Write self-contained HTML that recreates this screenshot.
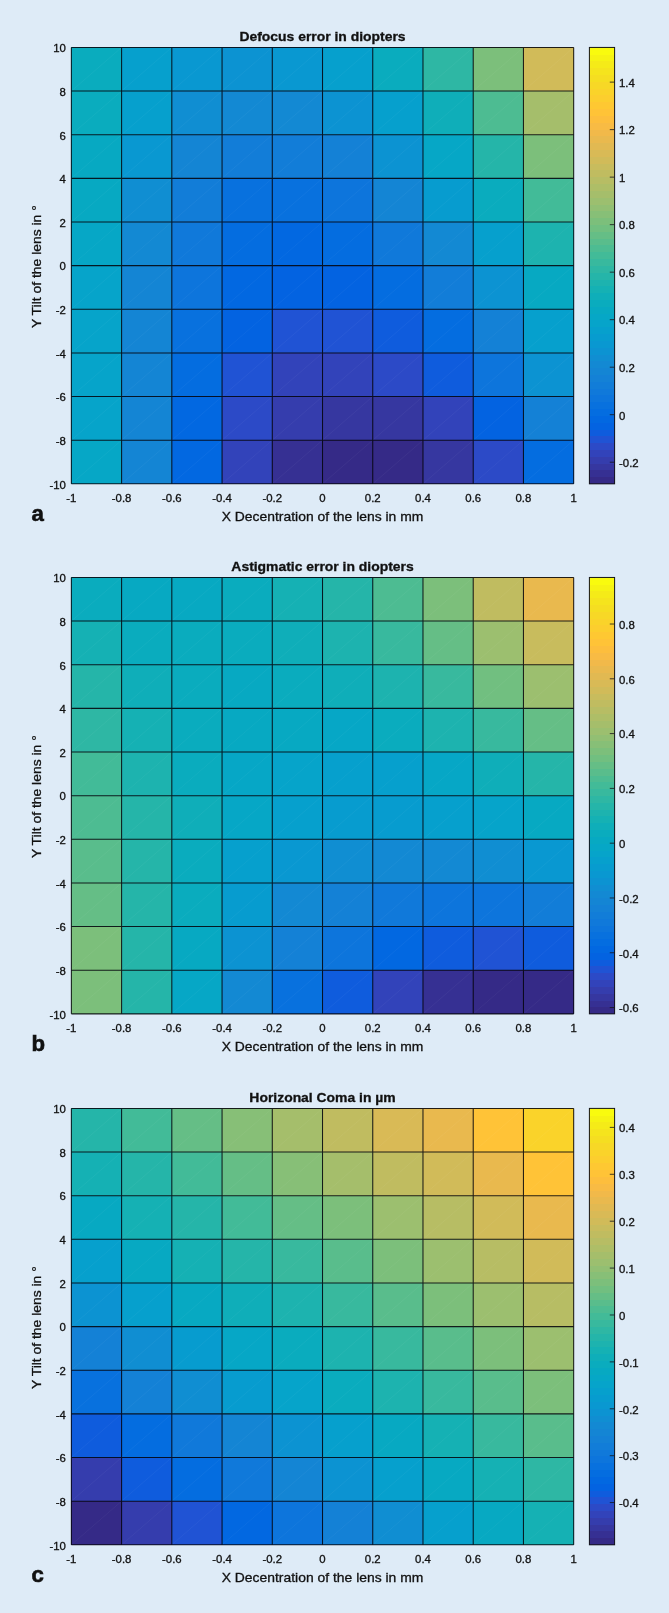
<!DOCTYPE html>
<html lang="en"><head><meta charset="utf-8"><title>Figure</title>
<style>html,body{margin:0;padding:0;background:#deebf7;}body{width:669px;height:1613px;overflow:hidden;}svg{display:block;will-change:transform;}</style>
</head><body>
<svg width="669" height="1613" viewBox="0 0 669 1613" font-family="'Liberation Sans', Arial, Helvetica, sans-serif" fill="#111" stroke="#111" stroke-width="0">
<rect width="669" height="1613" fill="#deebf7"/>
<g>
<g shape-rendering="crispEdges">
<rect x="71.36" y="47.43" width="50.53" height="43.94" fill="#0aacbe"/>
<rect x="121.59" y="47.43" width="50.53" height="43.94" fill="#06a0cd"/>
<rect x="171.82" y="47.43" width="50.53" height="43.94" fill="#0998d1"/>
<rect x="222.06" y="47.43" width="50.53" height="43.94" fill="#0c93d2"/>
<rect x="272.29" y="47.43" width="50.53" height="43.94" fill="#0998d1"/>
<rect x="322.52" y="47.43" width="50.53" height="43.94" fill="#06a0cd"/>
<rect x="372.75" y="47.43" width="50.53" height="43.94" fill="#0aacbe"/>
<rect x="422.98" y="47.43" width="50.53" height="43.94" fill="#2eb7a4"/>
<rect x="473.22" y="47.43" width="50.53" height="43.94" fill="#7cbf7b"/>
<rect x="523.45" y="47.43" width="50.53" height="43.94" fill="#d1bb59"/>
<rect x="71.36" y="91.07" width="50.53" height="43.94" fill="#0aacbe"/>
<rect x="121.59" y="91.07" width="50.53" height="43.94" fill="#06a0cd"/>
<rect x="171.82" y="91.07" width="50.53" height="43.94" fill="#108ed2"/>
<rect x="222.06" y="91.07" width="50.53" height="43.94" fill="#1389d3"/>
<rect x="272.29" y="91.07" width="50.53" height="43.94" fill="#1389d3"/>
<rect x="322.52" y="91.07" width="50.53" height="43.94" fill="#0c93d2"/>
<rect x="372.75" y="91.07" width="50.53" height="43.94" fill="#06a0cd"/>
<rect x="422.98" y="91.07" width="50.53" height="43.94" fill="#0faeb9"/>
<rect x="473.22" y="91.07" width="50.53" height="43.94" fill="#4dbc92"/>
<rect x="523.45" y="91.07" width="50.53" height="43.94" fill="#a5be6b"/>
<rect x="71.36" y="134.71" width="50.53" height="43.94" fill="#07a9c2"/>
<rect x="121.59" y="134.71" width="50.53" height="43.94" fill="#0998d1"/>
<rect x="171.82" y="134.71" width="50.53" height="43.94" fill="#1485d4"/>
<rect x="222.06" y="134.71" width="50.53" height="43.94" fill="#127dd8"/>
<rect x="272.29" y="134.71" width="50.53" height="43.94" fill="#127dd8"/>
<rect x="322.52" y="134.71" width="50.53" height="43.94" fill="#1481d6"/>
<rect x="372.75" y="134.71" width="50.53" height="43.94" fill="#0c93d2"/>
<rect x="422.98" y="134.71" width="50.53" height="43.94" fill="#06a7c6"/>
<rect x="473.22" y="134.71" width="50.53" height="43.94" fill="#25b5a9"/>
<rect x="523.45" y="134.71" width="50.53" height="43.94" fill="#7cbf7b"/>
<rect x="71.36" y="178.35" width="50.53" height="43.94" fill="#07a9c2"/>
<rect x="121.59" y="178.35" width="50.53" height="43.94" fill="#108ed2"/>
<rect x="171.82" y="178.35" width="50.53" height="43.94" fill="#127dd8"/>
<rect x="222.06" y="178.35" width="50.53" height="43.94" fill="#0871de"/>
<rect x="272.29" y="178.35" width="50.53" height="43.94" fill="#0871de"/>
<rect x="322.52" y="178.35" width="50.53" height="43.94" fill="#0d75dc"/>
<rect x="372.75" y="178.35" width="50.53" height="43.94" fill="#1485d4"/>
<rect x="422.98" y="178.35" width="50.53" height="43.94" fill="#079ccf"/>
<rect x="473.22" y="178.35" width="50.53" height="43.94" fill="#0aacbe"/>
<rect x="523.45" y="178.35" width="50.53" height="43.94" fill="#42bb98"/>
<rect x="71.36" y="221.99" width="50.53" height="43.94" fill="#06a7c6"/>
<rect x="121.59" y="221.99" width="50.53" height="43.94" fill="#1389d3"/>
<rect x="171.82" y="221.99" width="50.53" height="43.94" fill="#1079da"/>
<rect x="222.06" y="221.99" width="50.53" height="43.94" fill="#046de0"/>
<rect x="272.29" y="221.99" width="50.53" height="43.94" fill="#0268e1"/>
<rect x="322.52" y="221.99" width="50.53" height="43.94" fill="#046de0"/>
<rect x="372.75" y="221.99" width="50.53" height="43.94" fill="#1079da"/>
<rect x="422.98" y="221.99" width="50.53" height="43.94" fill="#1389d3"/>
<rect x="473.22" y="221.99" width="50.53" height="43.94" fill="#06a0cd"/>
<rect x="523.45" y="221.99" width="50.53" height="43.94" fill="#1db3af"/>
<rect x="71.36" y="265.63" width="50.53" height="43.94" fill="#06a4ca"/>
<rect x="121.59" y="265.63" width="50.53" height="43.94" fill="#1485d4"/>
<rect x="171.82" y="265.63" width="50.53" height="43.94" fill="#0d75dc"/>
<rect x="222.06" y="265.63" width="50.53" height="43.94" fill="#0268e1"/>
<rect x="272.29" y="265.63" width="50.53" height="43.94" fill="#0363e1"/>
<rect x="322.52" y="265.63" width="50.53" height="43.94" fill="#0363e1"/>
<rect x="372.75" y="265.63" width="50.53" height="43.94" fill="#046de0"/>
<rect x="422.98" y="265.63" width="50.53" height="43.94" fill="#127dd8"/>
<rect x="473.22" y="265.63" width="50.53" height="43.94" fill="#0c93d2"/>
<rect x="523.45" y="265.63" width="50.53" height="43.94" fill="#07a9c2"/>
<rect x="71.36" y="309.27" width="50.53" height="43.94" fill="#06a4ca"/>
<rect x="121.59" y="309.27" width="50.53" height="43.94" fill="#1485d4"/>
<rect x="171.82" y="309.27" width="50.53" height="43.94" fill="#0871de"/>
<rect x="222.06" y="309.27" width="50.53" height="43.94" fill="#0363e1"/>
<rect x="272.29" y="309.27" width="50.53" height="43.94" fill="#2053d4"/>
<rect x="322.52" y="309.27" width="50.53" height="43.94" fill="#2053d4"/>
<rect x="372.75" y="309.27" width="50.53" height="43.94" fill="#0f5cdd"/>
<rect x="422.98" y="309.27" width="50.53" height="43.94" fill="#046de0"/>
<rect x="473.22" y="309.27" width="50.53" height="43.94" fill="#1481d6"/>
<rect x="523.45" y="309.27" width="50.53" height="43.94" fill="#06a0cd"/>
<rect x="71.36" y="352.91" width="50.53" height="43.94" fill="#06a4ca"/>
<rect x="121.59" y="352.91" width="50.53" height="43.94" fill="#1485d4"/>
<rect x="171.82" y="352.91" width="50.53" height="43.94" fill="#046de0"/>
<rect x="222.06" y="352.91" width="50.53" height="43.94" fill="#2053d4"/>
<rect x="272.29" y="352.91" width="50.53" height="43.94" fill="#3243ba"/>
<rect x="322.52" y="352.91" width="50.53" height="43.94" fill="#3243ba"/>
<rect x="372.75" y="352.91" width="50.53" height="43.94" fill="#2c4ac7"/>
<rect x="422.98" y="352.91" width="50.53" height="43.94" fill="#0f5cdd"/>
<rect x="473.22" y="352.91" width="50.53" height="43.94" fill="#0d75dc"/>
<rect x="523.45" y="352.91" width="50.53" height="43.94" fill="#0c93d2"/>
<rect x="71.36" y="396.55" width="50.53" height="43.94" fill="#06a4ca"/>
<rect x="121.59" y="396.55" width="50.53" height="43.94" fill="#1485d4"/>
<rect x="171.82" y="396.55" width="50.53" height="43.94" fill="#0268e1"/>
<rect x="222.06" y="396.55" width="50.53" height="43.94" fill="#2c4ac7"/>
<rect x="272.29" y="396.55" width="50.53" height="43.94" fill="#353dad"/>
<rect x="322.52" y="396.55" width="50.53" height="43.94" fill="#3637a0"/>
<rect x="372.75" y="396.55" width="50.53" height="43.94" fill="#3637a0"/>
<rect x="422.98" y="396.55" width="50.53" height="43.94" fill="#3243ba"/>
<rect x="473.22" y="396.55" width="50.53" height="43.94" fill="#0363e1"/>
<rect x="523.45" y="396.55" width="50.53" height="43.94" fill="#1481d6"/>
<rect x="71.36" y="440.19" width="50.53" height="43.94" fill="#06a7c6"/>
<rect x="121.59" y="440.19" width="50.53" height="43.94" fill="#1485d4"/>
<rect x="171.82" y="440.19" width="50.53" height="43.94" fill="#0268e1"/>
<rect x="222.06" y="440.19" width="50.53" height="43.94" fill="#3243ba"/>
<rect x="272.29" y="440.19" width="50.53" height="43.94" fill="#363093"/>
<rect x="322.52" y="440.19" width="50.53" height="43.94" fill="#352a87"/>
<rect x="372.75" y="440.19" width="50.53" height="43.94" fill="#352a87"/>
<rect x="422.98" y="440.19" width="50.53" height="43.94" fill="#3637a0"/>
<rect x="473.22" y="440.19" width="50.53" height="43.94" fill="#2c4ac7"/>
<rect x="523.45" y="440.19" width="50.53" height="43.94" fill="#046de0"/>
</g>
<path d="M71.36 91.07L121.59 47.43M121.59 91.07L171.82 47.43M171.82 91.07L222.06 47.43M222.06 91.07L272.29 47.43M272.29 91.07L322.52 47.43M322.52 91.07L372.75 47.43M372.75 91.07L422.98 47.43M422.98 91.07L473.22 47.43M473.22 91.07L523.45 47.43M523.45 91.07L573.68 47.43M71.36 134.71L121.59 91.07M121.59 134.71L171.82 91.07M171.82 134.71L222.06 91.07M222.06 134.71L272.29 91.07M272.29 134.71L322.52 91.07M322.52 134.71L372.75 91.07M372.75 134.71L422.98 91.07M422.98 134.71L473.22 91.07M473.22 134.71L523.45 91.07M523.45 134.71L573.68 91.07M71.36 178.35L121.59 134.71M121.59 178.35L171.82 134.71M171.82 178.35L222.06 134.71M222.06 178.35L272.29 134.71M272.29 178.35L322.52 134.71M322.52 178.35L372.75 134.71M372.75 178.35L422.98 134.71M422.98 178.35L473.22 134.71M473.22 178.35L523.45 134.71M523.45 178.35L573.68 134.71M71.36 221.99L121.59 178.35M121.59 221.99L171.82 178.35M171.82 221.99L222.06 178.35M222.06 221.99L272.29 178.35M272.29 221.99L322.52 178.35M322.52 221.99L372.75 178.35M372.75 221.99L422.98 178.35M422.98 221.99L473.22 178.35M473.22 221.99L523.45 178.35M523.45 221.99L573.68 178.35M71.36 265.63L121.59 221.99M121.59 265.63L171.82 221.99M171.82 265.63L222.06 221.99M222.06 265.63L272.29 221.99M272.29 265.63L322.52 221.99M322.52 265.63L372.75 221.99M372.75 265.63L422.98 221.99M422.98 265.63L473.22 221.99M473.22 265.63L523.45 221.99M523.45 265.63L573.68 221.99M71.36 309.27L121.59 265.63M121.59 309.27L171.82 265.63M171.82 309.27L222.06 265.63M222.06 309.27L272.29 265.63M272.29 309.27L322.52 265.63M322.52 309.27L372.75 265.63M372.75 309.27L422.98 265.63M422.98 309.27L473.22 265.63M473.22 309.27L523.45 265.63M523.45 309.27L573.68 265.63M71.36 352.91L121.59 309.27M121.59 352.91L171.82 309.27M171.82 352.91L222.06 309.27M222.06 352.91L272.29 309.27M272.29 352.91L322.52 309.27M322.52 352.91L372.75 309.27M372.75 352.91L422.98 309.27M422.98 352.91L473.22 309.27M473.22 352.91L523.45 309.27M523.45 352.91L573.68 309.27M71.36 396.55L121.59 352.91M121.59 396.55L171.82 352.91M171.82 396.55L222.06 352.91M222.06 396.55L272.29 352.91M272.29 396.55L322.52 352.91M322.52 396.55L372.75 352.91M372.75 396.55L422.98 352.91M422.98 396.55L473.22 352.91M473.22 396.55L523.45 352.91M523.45 396.55L573.68 352.91M71.36 440.19L121.59 396.55M121.59 440.19L171.82 396.55M171.82 440.19L222.06 396.55M222.06 440.19L272.29 396.55M272.29 440.19L322.52 396.55M322.52 440.19L372.75 396.55M372.75 440.19L422.98 396.55M422.98 440.19L473.22 396.55M473.22 440.19L523.45 396.55M523.45 440.19L573.68 396.55M71.36 483.83L121.59 440.19M121.59 483.83L171.82 440.19M171.82 483.83L222.06 440.19M222.06 483.83L272.29 440.19M272.29 483.83L322.52 440.19M322.52 483.83L372.75 440.19M372.75 483.83L422.98 440.19M422.98 483.83L473.22 440.19M473.22 483.83L523.45 440.19M523.45 483.83L573.68 440.19" stroke="#ffffff" stroke-width="1" fill="none" stroke-opacity="0.04"/>
<path d="M71.36 47.43V483.83M71.36 47.43H573.68M121.59 47.43V483.83M71.36 91.07H573.68M171.82 47.43V483.83M71.36 134.71H573.68M222.06 47.43V483.83M71.36 178.35H573.68M272.29 47.43V483.83M71.36 221.99H573.68M322.52 47.43V483.83M71.36 265.63H573.68M372.75 47.43V483.83M71.36 309.27H573.68M422.98 47.43V483.83M71.36 352.91H573.68M473.22 47.43V483.83M71.36 396.55H573.68M523.45 47.43V483.83M71.36 440.19H573.68M573.68 47.43V483.83M71.36 483.83H573.68" stroke="#05050c" stroke-width="1.05" fill="none" stroke-opacity="0.88"/>
<text transform="translate(71.36 501.83) scale(1.065 1)" font-size="10.7" text-anchor="middle" font-weight="normal" stroke-width="0.3">-1</text>
<text transform="translate(65.96 488.63) scale(1.065 1)" font-size="10.7" text-anchor="end" font-weight="normal" stroke-width="0.3">-10</text>
<text transform="translate(121.59 501.83) scale(1.065 1)" font-size="10.7" text-anchor="middle" font-weight="normal" stroke-width="0.3">-0.8</text>
<text transform="translate(65.96 444.99) scale(1.065 1)" font-size="10.7" text-anchor="end" font-weight="normal" stroke-width="0.3">-8</text>
<text transform="translate(171.82 501.83) scale(1.065 1)" font-size="10.7" text-anchor="middle" font-weight="normal" stroke-width="0.3">-0.6</text>
<text transform="translate(65.96 401.35) scale(1.065 1)" font-size="10.7" text-anchor="end" font-weight="normal" stroke-width="0.3">-6</text>
<text transform="translate(222.06 501.83) scale(1.065 1)" font-size="10.7" text-anchor="middle" font-weight="normal" stroke-width="0.3">-0.4</text>
<text transform="translate(65.96 357.71) scale(1.065 1)" font-size="10.7" text-anchor="end" font-weight="normal" stroke-width="0.3">-4</text>
<text transform="translate(272.29 501.83) scale(1.065 1)" font-size="10.7" text-anchor="middle" font-weight="normal" stroke-width="0.3">-0.2</text>
<text transform="translate(65.96 314.07) scale(1.065 1)" font-size="10.7" text-anchor="end" font-weight="normal" stroke-width="0.3">-2</text>
<text transform="translate(322.52 501.83) scale(1.065 1)" font-size="10.7" text-anchor="middle" font-weight="normal" stroke-width="0.3">0</text>
<text transform="translate(65.96 270.43) scale(1.065 1)" font-size="10.7" text-anchor="end" font-weight="normal" stroke-width="0.3">0</text>
<text transform="translate(372.75 501.83) scale(1.065 1)" font-size="10.7" text-anchor="middle" font-weight="normal" stroke-width="0.3">0.2</text>
<text transform="translate(65.96 226.79) scale(1.065 1)" font-size="10.7" text-anchor="end" font-weight="normal" stroke-width="0.3">2</text>
<text transform="translate(422.98 501.83) scale(1.065 1)" font-size="10.7" text-anchor="middle" font-weight="normal" stroke-width="0.3">0.4</text>
<text transform="translate(65.96 183.15) scale(1.065 1)" font-size="10.7" text-anchor="end" font-weight="normal" stroke-width="0.3">4</text>
<text transform="translate(473.22 501.83) scale(1.065 1)" font-size="10.7" text-anchor="middle" font-weight="normal" stroke-width="0.3">0.6</text>
<text transform="translate(65.96 139.51) scale(1.065 1)" font-size="10.7" text-anchor="end" font-weight="normal" stroke-width="0.3">6</text>
<text transform="translate(523.45 501.83) scale(1.065 1)" font-size="10.7" text-anchor="middle" font-weight="normal" stroke-width="0.3">0.8</text>
<text transform="translate(65.96 95.87) scale(1.065 1)" font-size="10.7" text-anchor="end" font-weight="normal" stroke-width="0.3">8</text>
<text transform="translate(573.68 501.83) scale(1.065 1)" font-size="10.7" text-anchor="middle" font-weight="normal" stroke-width="0.3">1</text>
<text transform="translate(65.96 52.23) scale(1.065 1)" font-size="10.7" text-anchor="end" font-weight="normal" stroke-width="0.3">10</text>
<text transform="translate(322.52 520.83) scale(1.07 1)" font-size="13.0" text-anchor="middle" font-weight="normal" stroke-width="0.3">X Decentration of the lens in mm</text>
<text transform="translate(41.40 266.63) rotate(-90) scale(1.07 1)" font-size="13.0" text-anchor="middle" font-weight="normal" stroke-width="0.3">Y Tilt of the lens in °</text>
<text transform="translate(322.52 40.53) scale(1.087 1)" font-size="12.8" text-anchor="middle" font-weight="bold" stroke-width="0.3">Defocus error in diopters</text>
<g shape-rendering="crispEdges">
<rect x="589.40" y="477.01" width="25.20" height="7.12" fill="#352a87"/>
<rect x="589.40" y="470.19" width="25.20" height="7.12" fill="#363093"/>
<rect x="589.40" y="463.37" width="25.20" height="7.12" fill="#3637a0"/>
<rect x="589.40" y="456.56" width="25.20" height="7.12" fill="#353dad"/>
<rect x="589.40" y="449.74" width="25.20" height="7.12" fill="#3243ba"/>
<rect x="589.40" y="442.92" width="25.20" height="7.12" fill="#2c4ac7"/>
<rect x="589.40" y="436.10" width="25.20" height="7.12" fill="#2053d4"/>
<rect x="589.40" y="429.28" width="25.20" height="7.12" fill="#0f5cdd"/>
<rect x="589.40" y="422.46" width="25.20" height="7.12" fill="#0363e1"/>
<rect x="589.40" y="415.64" width="25.20" height="7.12" fill="#0268e1"/>
<rect x="589.40" y="408.82" width="25.20" height="7.12" fill="#046de0"/>
<rect x="589.40" y="402.00" width="25.20" height="7.12" fill="#0871de"/>
<rect x="589.40" y="395.19" width="25.20" height="7.12" fill="#0d75dc"/>
<rect x="589.40" y="388.37" width="25.20" height="7.12" fill="#1079da"/>
<rect x="589.40" y="381.55" width="25.20" height="7.12" fill="#127dd8"/>
<rect x="589.40" y="374.73" width="25.20" height="7.12" fill="#1481d6"/>
<rect x="589.40" y="367.91" width="25.20" height="7.12" fill="#1485d4"/>
<rect x="589.40" y="361.09" width="25.20" height="7.12" fill="#1389d3"/>
<rect x="589.40" y="354.27" width="25.20" height="7.12" fill="#108ed2"/>
<rect x="589.40" y="347.45" width="25.20" height="7.12" fill="#0c93d2"/>
<rect x="589.40" y="340.64" width="25.20" height="7.12" fill="#0998d1"/>
<rect x="589.40" y="333.82" width="25.20" height="7.12" fill="#079ccf"/>
<rect x="589.40" y="327.00" width="25.20" height="7.12" fill="#06a0cd"/>
<rect x="589.40" y="320.18" width="25.20" height="7.12" fill="#06a4ca"/>
<rect x="589.40" y="313.36" width="25.20" height="7.12" fill="#06a7c6"/>
<rect x="589.40" y="306.54" width="25.20" height="7.12" fill="#07a9c2"/>
<rect x="589.40" y="299.72" width="25.20" height="7.12" fill="#0aacbe"/>
<rect x="589.40" y="292.90" width="25.20" height="7.12" fill="#0faeb9"/>
<rect x="589.40" y="286.09" width="25.20" height="7.12" fill="#15b1b4"/>
<rect x="589.40" y="279.27" width="25.20" height="7.12" fill="#1db3af"/>
<rect x="589.40" y="272.45" width="25.20" height="7.12" fill="#25b5a9"/>
<rect x="589.40" y="265.63" width="25.20" height="7.12" fill="#2eb7a4"/>
<rect x="589.40" y="258.81" width="25.20" height="7.12" fill="#38b99e"/>
<rect x="589.40" y="251.99" width="25.20" height="7.12" fill="#42bb98"/>
<rect x="589.40" y="245.17" width="25.20" height="7.12" fill="#4dbc92"/>
<rect x="589.40" y="238.35" width="25.20" height="7.12" fill="#59bd8c"/>
<rect x="589.40" y="231.54" width="25.20" height="7.12" fill="#65be86"/>
<rect x="589.40" y="224.72" width="25.20" height="7.12" fill="#71bf80"/>
<rect x="589.40" y="217.90" width="25.20" height="7.12" fill="#7cbf7b"/>
<rect x="589.40" y="211.08" width="25.20" height="7.12" fill="#87bf77"/>
<rect x="589.40" y="204.26" width="25.20" height="7.12" fill="#92bf73"/>
<rect x="589.40" y="197.44" width="25.20" height="7.12" fill="#9cbf6f"/>
<rect x="589.40" y="190.62" width="25.20" height="7.12" fill="#a5be6b"/>
<rect x="589.40" y="183.81" width="25.20" height="7.12" fill="#aebe67"/>
<rect x="589.40" y="176.99" width="25.20" height="7.12" fill="#b7bd64"/>
<rect x="589.40" y="170.17" width="25.20" height="7.12" fill="#c0bc60"/>
<rect x="589.40" y="163.35" width="25.20" height="7.12" fill="#c8bc5d"/>
<rect x="589.40" y="156.53" width="25.20" height="7.12" fill="#d1bb59"/>
<rect x="589.40" y="149.71" width="25.20" height="7.12" fill="#d9ba56"/>
<rect x="589.40" y="142.89" width="25.20" height="7.12" fill="#e1b952"/>
<rect x="589.40" y="136.07" width="25.20" height="7.12" fill="#e9b94e"/>
<rect x="589.40" y="129.25" width="25.20" height="7.12" fill="#f1b94a"/>
<rect x="589.40" y="122.44" width="25.20" height="7.12" fill="#f8bb44"/>
<rect x="589.40" y="115.62" width="25.20" height="7.12" fill="#fdbe3d"/>
<rect x="589.40" y="108.80" width="25.20" height="7.12" fill="#ffc337"/>
<rect x="589.40" y="101.98" width="25.20" height="7.12" fill="#fec832"/>
<rect x="589.40" y="95.16" width="25.20" height="7.12" fill="#fcce2e"/>
<rect x="589.40" y="88.34" width="25.20" height="7.12" fill="#fad32a"/>
<rect x="589.40" y="81.52" width="25.20" height="7.12" fill="#f7d826"/>
<rect x="589.40" y="74.70" width="25.20" height="7.12" fill="#f5de21"/>
<rect x="589.40" y="67.89" width="25.20" height="7.12" fill="#f5e41d"/>
<rect x="589.40" y="61.07" width="25.20" height="7.12" fill="#f5eb18"/>
<rect x="589.40" y="54.25" width="25.20" height="7.12" fill="#f6f313"/>
<rect x="589.40" y="47.43" width="25.20" height="7.12" fill="#f9fb0e"/>
</g>
<rect x="589.40" y="47.43" width="25.20" height="436.40" fill="none" stroke="#15151c" stroke-width="1"/>
<text transform="translate(619.00 467.01) scale(1.065 1)" font-size="10.7" text-anchor="start" font-weight="normal" stroke-width="0.3">-0.2</text>
<text transform="translate(619.00 419.50) scale(1.065 1)" font-size="10.7" text-anchor="start" font-weight="normal" stroke-width="0.3">0</text>
<text transform="translate(619.00 371.99) scale(1.065 1)" font-size="10.7" text-anchor="start" font-weight="normal" stroke-width="0.3">0.2</text>
<text transform="translate(619.00 324.48) scale(1.065 1)" font-size="10.7" text-anchor="start" font-weight="normal" stroke-width="0.3">0.4</text>
<text transform="translate(619.00 276.96) scale(1.065 1)" font-size="10.7" text-anchor="start" font-weight="normal" stroke-width="0.3">0.6</text>
<text transform="translate(619.00 229.45) scale(1.065 1)" font-size="10.7" text-anchor="start" font-weight="normal" stroke-width="0.3">0.8</text>
<text transform="translate(619.00 181.94) scale(1.065 1)" font-size="10.7" text-anchor="start" font-weight="normal" stroke-width="0.3">1</text>
<text transform="translate(619.00 134.43) scale(1.065 1)" font-size="10.7" text-anchor="start" font-weight="normal" stroke-width="0.3">1.2</text>
<text transform="translate(619.00 86.91) scale(1.065 1)" font-size="10.7" text-anchor="start" font-weight="normal" stroke-width="0.3">1.4</text>
<path d="M614.60 462.21h-4.8M614.60 414.70h-4.8M614.60 367.19h-4.8M614.60 319.68h-4.8M614.60 272.16h-4.8M614.60 224.65h-4.8M614.60 177.14h-4.8M614.60 129.63h-4.8M614.60 82.11h-4.8" stroke="#15151c" stroke-width="1" fill="none" stroke-opacity="0.8"/>
<text transform="translate(31.50 520.53) scale(1.0 1)" font-size="22.2" text-anchor="start" font-weight="bold" stroke-width="0.3" style="stroke-width:0.6px">a</text>
</g>
<g>
<g shape-rendering="crispEdges">
<rect x="71.36" y="577.45" width="50.53" height="43.94" fill="#0aacbe"/>
<rect x="121.59" y="577.45" width="50.53" height="43.94" fill="#07a9c2"/>
<rect x="171.82" y="577.45" width="50.53" height="43.94" fill="#07a9c2"/>
<rect x="222.06" y="577.45" width="50.53" height="43.94" fill="#0aacbe"/>
<rect x="272.29" y="577.45" width="50.53" height="43.94" fill="#15b1b4"/>
<rect x="322.52" y="577.45" width="50.53" height="43.94" fill="#25b5a9"/>
<rect x="372.75" y="577.45" width="50.53" height="43.94" fill="#4dbc92"/>
<rect x="422.98" y="577.45" width="50.53" height="43.94" fill="#7cbf7b"/>
<rect x="473.22" y="577.45" width="50.53" height="43.94" fill="#c0bc60"/>
<rect x="523.45" y="577.45" width="50.53" height="43.94" fill="#e9b94e"/>
<rect x="71.36" y="621.09" width="50.53" height="43.94" fill="#15b1b4"/>
<rect x="121.59" y="621.09" width="50.53" height="43.94" fill="#0aacbe"/>
<rect x="171.82" y="621.09" width="50.53" height="43.94" fill="#0aacbe"/>
<rect x="222.06" y="621.09" width="50.53" height="43.94" fill="#0aacbe"/>
<rect x="272.29" y="621.09" width="50.53" height="43.94" fill="#0faeb9"/>
<rect x="322.52" y="621.09" width="50.53" height="43.94" fill="#1db3af"/>
<rect x="372.75" y="621.09" width="50.53" height="43.94" fill="#38b99e"/>
<rect x="422.98" y="621.09" width="50.53" height="43.94" fill="#65be86"/>
<rect x="473.22" y="621.09" width="50.53" height="43.94" fill="#9cbf6f"/>
<rect x="523.45" y="621.09" width="50.53" height="43.94" fill="#c8bc5d"/>
<rect x="71.36" y="664.73" width="50.53" height="43.94" fill="#25b5a9"/>
<rect x="121.59" y="664.73" width="50.53" height="43.94" fill="#0faeb9"/>
<rect x="171.82" y="664.73" width="50.53" height="43.94" fill="#0aacbe"/>
<rect x="222.06" y="664.73" width="50.53" height="43.94" fill="#07a9c2"/>
<rect x="272.29" y="664.73" width="50.53" height="43.94" fill="#0aacbe"/>
<rect x="322.52" y="664.73" width="50.53" height="43.94" fill="#0faeb9"/>
<rect x="372.75" y="664.73" width="50.53" height="43.94" fill="#1db3af"/>
<rect x="422.98" y="664.73" width="50.53" height="43.94" fill="#38b99e"/>
<rect x="473.22" y="664.73" width="50.53" height="43.94" fill="#71bf80"/>
<rect x="523.45" y="664.73" width="50.53" height="43.94" fill="#9cbf6f"/>
<rect x="71.36" y="708.37" width="50.53" height="43.94" fill="#2eb7a4"/>
<rect x="121.59" y="708.37" width="50.53" height="43.94" fill="#15b1b4"/>
<rect x="171.82" y="708.37" width="50.53" height="43.94" fill="#0aacbe"/>
<rect x="222.06" y="708.37" width="50.53" height="43.94" fill="#07a9c2"/>
<rect x="272.29" y="708.37" width="50.53" height="43.94" fill="#07a9c2"/>
<rect x="322.52" y="708.37" width="50.53" height="43.94" fill="#06a7c6"/>
<rect x="372.75" y="708.37" width="50.53" height="43.94" fill="#0aacbe"/>
<rect x="422.98" y="708.37" width="50.53" height="43.94" fill="#1db3af"/>
<rect x="473.22" y="708.37" width="50.53" height="43.94" fill="#38b99e"/>
<rect x="523.45" y="708.37" width="50.53" height="43.94" fill="#65be86"/>
<rect x="71.36" y="752.01" width="50.53" height="43.94" fill="#42bb98"/>
<rect x="121.59" y="752.01" width="50.53" height="43.94" fill="#1db3af"/>
<rect x="171.82" y="752.01" width="50.53" height="43.94" fill="#0aacbe"/>
<rect x="222.06" y="752.01" width="50.53" height="43.94" fill="#06a7c6"/>
<rect x="272.29" y="752.01" width="50.53" height="43.94" fill="#06a4ca"/>
<rect x="322.52" y="752.01" width="50.53" height="43.94" fill="#06a0cd"/>
<rect x="372.75" y="752.01" width="50.53" height="43.94" fill="#06a0cd"/>
<rect x="422.98" y="752.01" width="50.53" height="43.94" fill="#06a7c6"/>
<rect x="473.22" y="752.01" width="50.53" height="43.94" fill="#0faeb9"/>
<rect x="523.45" y="752.01" width="50.53" height="43.94" fill="#25b5a9"/>
<rect x="71.36" y="795.65" width="50.53" height="43.94" fill="#4dbc92"/>
<rect x="121.59" y="795.65" width="50.53" height="43.94" fill="#25b5a9"/>
<rect x="171.82" y="795.65" width="50.53" height="43.94" fill="#0faeb9"/>
<rect x="222.06" y="795.65" width="50.53" height="43.94" fill="#06a7c6"/>
<rect x="272.29" y="795.65" width="50.53" height="43.94" fill="#06a0cd"/>
<rect x="322.52" y="795.65" width="50.53" height="43.94" fill="#079ccf"/>
<rect x="372.75" y="795.65" width="50.53" height="43.94" fill="#079ccf"/>
<rect x="422.98" y="795.65" width="50.53" height="43.94" fill="#06a0cd"/>
<rect x="473.22" y="795.65" width="50.53" height="43.94" fill="#06a4ca"/>
<rect x="523.45" y="795.65" width="50.53" height="43.94" fill="#07a9c2"/>
<rect x="71.36" y="839.29" width="50.53" height="43.94" fill="#59bd8c"/>
<rect x="121.59" y="839.29" width="50.53" height="43.94" fill="#25b5a9"/>
<rect x="171.82" y="839.29" width="50.53" height="43.94" fill="#0aacbe"/>
<rect x="222.06" y="839.29" width="50.53" height="43.94" fill="#06a0cd"/>
<rect x="272.29" y="839.29" width="50.53" height="43.94" fill="#0998d1"/>
<rect x="322.52" y="839.29" width="50.53" height="43.94" fill="#108ed2"/>
<rect x="372.75" y="839.29" width="50.53" height="43.94" fill="#1389d3"/>
<rect x="422.98" y="839.29" width="50.53" height="43.94" fill="#1389d3"/>
<rect x="473.22" y="839.29" width="50.53" height="43.94" fill="#108ed2"/>
<rect x="523.45" y="839.29" width="50.53" height="43.94" fill="#0998d1"/>
<rect x="71.36" y="882.93" width="50.53" height="43.94" fill="#65be86"/>
<rect x="121.59" y="882.93" width="50.53" height="43.94" fill="#25b5a9"/>
<rect x="171.82" y="882.93" width="50.53" height="43.94" fill="#0aacbe"/>
<rect x="222.06" y="882.93" width="50.53" height="43.94" fill="#079ccf"/>
<rect x="272.29" y="882.93" width="50.53" height="43.94" fill="#1389d3"/>
<rect x="322.52" y="882.93" width="50.53" height="43.94" fill="#1481d6"/>
<rect x="372.75" y="882.93" width="50.53" height="43.94" fill="#1079da"/>
<rect x="422.98" y="882.93" width="50.53" height="43.94" fill="#0d75dc"/>
<rect x="473.22" y="882.93" width="50.53" height="43.94" fill="#0d75dc"/>
<rect x="523.45" y="882.93" width="50.53" height="43.94" fill="#127dd8"/>
<rect x="71.36" y="926.57" width="50.53" height="43.94" fill="#7cbf7b"/>
<rect x="121.59" y="926.57" width="50.53" height="43.94" fill="#25b5a9"/>
<rect x="171.82" y="926.57" width="50.53" height="43.94" fill="#07a9c2"/>
<rect x="222.06" y="926.57" width="50.53" height="43.94" fill="#0c93d2"/>
<rect x="272.29" y="926.57" width="50.53" height="43.94" fill="#1481d6"/>
<rect x="322.52" y="926.57" width="50.53" height="43.94" fill="#0d75dc"/>
<rect x="372.75" y="926.57" width="50.53" height="43.94" fill="#0268e1"/>
<rect x="422.98" y="926.57" width="50.53" height="43.94" fill="#0f5cdd"/>
<rect x="473.22" y="926.57" width="50.53" height="43.94" fill="#2053d4"/>
<rect x="523.45" y="926.57" width="50.53" height="43.94" fill="#0f5cdd"/>
<rect x="71.36" y="970.21" width="50.53" height="43.94" fill="#7cbf7b"/>
<rect x="121.59" y="970.21" width="50.53" height="43.94" fill="#25b5a9"/>
<rect x="171.82" y="970.21" width="50.53" height="43.94" fill="#06a7c6"/>
<rect x="222.06" y="970.21" width="50.53" height="43.94" fill="#1389d3"/>
<rect x="272.29" y="970.21" width="50.53" height="43.94" fill="#0871de"/>
<rect x="322.52" y="970.21" width="50.53" height="43.94" fill="#0f5cdd"/>
<rect x="372.75" y="970.21" width="50.53" height="43.94" fill="#3243ba"/>
<rect x="422.98" y="970.21" width="50.53" height="43.94" fill="#363093"/>
<rect x="473.22" y="970.21" width="50.53" height="43.94" fill="#352a87"/>
<rect x="523.45" y="970.21" width="50.53" height="43.94" fill="#352a87"/>
</g>
<path d="M71.36 621.09L121.59 577.45M121.59 621.09L171.82 577.45M171.82 621.09L222.06 577.45M222.06 621.09L272.29 577.45M272.29 621.09L322.52 577.45M322.52 621.09L372.75 577.45M372.75 621.09L422.98 577.45M422.98 621.09L473.22 577.45M473.22 621.09L523.45 577.45M523.45 621.09L573.68 577.45M71.36 664.73L121.59 621.09M121.59 664.73L171.82 621.09M171.82 664.73L222.06 621.09M222.06 664.73L272.29 621.09M272.29 664.73L322.52 621.09M322.52 664.73L372.75 621.09M372.75 664.73L422.98 621.09M422.98 664.73L473.22 621.09M473.22 664.73L523.45 621.09M523.45 664.73L573.68 621.09M71.36 708.37L121.59 664.73M121.59 708.37L171.82 664.73M171.82 708.37L222.06 664.73M222.06 708.37L272.29 664.73M272.29 708.37L322.52 664.73M322.52 708.37L372.75 664.73M372.75 708.37L422.98 664.73M422.98 708.37L473.22 664.73M473.22 708.37L523.45 664.73M523.45 708.37L573.68 664.73M71.36 752.01L121.59 708.37M121.59 752.01L171.82 708.37M171.82 752.01L222.06 708.37M222.06 752.01L272.29 708.37M272.29 752.01L322.52 708.37M322.52 752.01L372.75 708.37M372.75 752.01L422.98 708.37M422.98 752.01L473.22 708.37M473.22 752.01L523.45 708.37M523.45 752.01L573.68 708.37M71.36 795.65L121.59 752.01M121.59 795.65L171.82 752.01M171.82 795.65L222.06 752.01M222.06 795.65L272.29 752.01M272.29 795.65L322.52 752.01M322.52 795.65L372.75 752.01M372.75 795.65L422.98 752.01M422.98 795.65L473.22 752.01M473.22 795.65L523.45 752.01M523.45 795.65L573.68 752.01M71.36 839.29L121.59 795.65M121.59 839.29L171.82 795.65M171.82 839.29L222.06 795.65M222.06 839.29L272.29 795.65M272.29 839.29L322.52 795.65M322.52 839.29L372.75 795.65M372.75 839.29L422.98 795.65M422.98 839.29L473.22 795.65M473.22 839.29L523.45 795.65M523.45 839.29L573.68 795.65M71.36 882.93L121.59 839.29M121.59 882.93L171.82 839.29M171.82 882.93L222.06 839.29M222.06 882.93L272.29 839.29M272.29 882.93L322.52 839.29M322.52 882.93L372.75 839.29M372.75 882.93L422.98 839.29M422.98 882.93L473.22 839.29M473.22 882.93L523.45 839.29M523.45 882.93L573.68 839.29M71.36 926.57L121.59 882.93M121.59 926.57L171.82 882.93M171.82 926.57L222.06 882.93M222.06 926.57L272.29 882.93M272.29 926.57L322.52 882.93M322.52 926.57L372.75 882.93M372.75 926.57L422.98 882.93M422.98 926.57L473.22 882.93M473.22 926.57L523.45 882.93M523.45 926.57L573.68 882.93M71.36 970.21L121.59 926.57M121.59 970.21L171.82 926.57M171.82 970.21L222.06 926.57M222.06 970.21L272.29 926.57M272.29 970.21L322.52 926.57M322.52 970.21L372.75 926.57M372.75 970.21L422.98 926.57M422.98 970.21L473.22 926.57M473.22 970.21L523.45 926.57M523.45 970.21L573.68 926.57M71.36 1013.85L121.59 970.21M121.59 1013.85L171.82 970.21M171.82 1013.85L222.06 970.21M222.06 1013.85L272.29 970.21M272.29 1013.85L322.52 970.21M322.52 1013.85L372.75 970.21M372.75 1013.85L422.98 970.21M422.98 1013.85L473.22 970.21M473.22 1013.85L523.45 970.21M523.45 1013.85L573.68 970.21" stroke="#ffffff" stroke-width="1" fill="none" stroke-opacity="0.04"/>
<path d="M71.36 577.45V1013.85M71.36 577.45H573.68M121.59 577.45V1013.85M71.36 621.09H573.68M171.82 577.45V1013.85M71.36 664.73H573.68M222.06 577.45V1013.85M71.36 708.37H573.68M272.29 577.45V1013.85M71.36 752.01H573.68M322.52 577.45V1013.85M71.36 795.65H573.68M372.75 577.45V1013.85M71.36 839.29H573.68M422.98 577.45V1013.85M71.36 882.93H573.68M473.22 577.45V1013.85M71.36 926.57H573.68M523.45 577.45V1013.85M71.36 970.21H573.68M573.68 577.45V1013.85M71.36 1013.85H573.68" stroke="#05050c" stroke-width="1.05" fill="none" stroke-opacity="0.88"/>
<text transform="translate(71.36 1031.85) scale(1.065 1)" font-size="10.7" text-anchor="middle" font-weight="normal" stroke-width="0.3">-1</text>
<text transform="translate(65.96 1018.65) scale(1.065 1)" font-size="10.7" text-anchor="end" font-weight="normal" stroke-width="0.3">-10</text>
<text transform="translate(121.59 1031.85) scale(1.065 1)" font-size="10.7" text-anchor="middle" font-weight="normal" stroke-width="0.3">-0.8</text>
<text transform="translate(65.96 975.01) scale(1.065 1)" font-size="10.7" text-anchor="end" font-weight="normal" stroke-width="0.3">-8</text>
<text transform="translate(171.82 1031.85) scale(1.065 1)" font-size="10.7" text-anchor="middle" font-weight="normal" stroke-width="0.3">-0.6</text>
<text transform="translate(65.96 931.37) scale(1.065 1)" font-size="10.7" text-anchor="end" font-weight="normal" stroke-width="0.3">-6</text>
<text transform="translate(222.06 1031.85) scale(1.065 1)" font-size="10.7" text-anchor="middle" font-weight="normal" stroke-width="0.3">-0.4</text>
<text transform="translate(65.96 887.73) scale(1.065 1)" font-size="10.7" text-anchor="end" font-weight="normal" stroke-width="0.3">-4</text>
<text transform="translate(272.29 1031.85) scale(1.065 1)" font-size="10.7" text-anchor="middle" font-weight="normal" stroke-width="0.3">-0.2</text>
<text transform="translate(65.96 844.09) scale(1.065 1)" font-size="10.7" text-anchor="end" font-weight="normal" stroke-width="0.3">-2</text>
<text transform="translate(322.52 1031.85) scale(1.065 1)" font-size="10.7" text-anchor="middle" font-weight="normal" stroke-width="0.3">0</text>
<text transform="translate(65.96 800.45) scale(1.065 1)" font-size="10.7" text-anchor="end" font-weight="normal" stroke-width="0.3">0</text>
<text transform="translate(372.75 1031.85) scale(1.065 1)" font-size="10.7" text-anchor="middle" font-weight="normal" stroke-width="0.3">0.2</text>
<text transform="translate(65.96 756.81) scale(1.065 1)" font-size="10.7" text-anchor="end" font-weight="normal" stroke-width="0.3">2</text>
<text transform="translate(422.98 1031.85) scale(1.065 1)" font-size="10.7" text-anchor="middle" font-weight="normal" stroke-width="0.3">0.4</text>
<text transform="translate(65.96 713.17) scale(1.065 1)" font-size="10.7" text-anchor="end" font-weight="normal" stroke-width="0.3">4</text>
<text transform="translate(473.22 1031.85) scale(1.065 1)" font-size="10.7" text-anchor="middle" font-weight="normal" stroke-width="0.3">0.6</text>
<text transform="translate(65.96 669.53) scale(1.065 1)" font-size="10.7" text-anchor="end" font-weight="normal" stroke-width="0.3">6</text>
<text transform="translate(523.45 1031.85) scale(1.065 1)" font-size="10.7" text-anchor="middle" font-weight="normal" stroke-width="0.3">0.8</text>
<text transform="translate(65.96 625.89) scale(1.065 1)" font-size="10.7" text-anchor="end" font-weight="normal" stroke-width="0.3">8</text>
<text transform="translate(573.68 1031.85) scale(1.065 1)" font-size="10.7" text-anchor="middle" font-weight="normal" stroke-width="0.3">1</text>
<text transform="translate(65.96 582.25) scale(1.065 1)" font-size="10.7" text-anchor="end" font-weight="normal" stroke-width="0.3">10</text>
<text transform="translate(322.52 1050.85) scale(1.07 1)" font-size="13.0" text-anchor="middle" font-weight="normal" stroke-width="0.3">X Decentration of the lens in mm</text>
<text transform="translate(41.40 796.65) rotate(-90) scale(1.07 1)" font-size="13.0" text-anchor="middle" font-weight="normal" stroke-width="0.3">Y Tilt of the lens in °</text>
<text transform="translate(322.52 570.55) scale(1.087 1)" font-size="12.8" text-anchor="middle" font-weight="bold" stroke-width="0.3">Astigmatic error in diopters</text>
<g shape-rendering="crispEdges">
<rect x="589.40" y="1007.03" width="25.20" height="7.12" fill="#352a87"/>
<rect x="589.40" y="1000.21" width="25.20" height="7.12" fill="#363093"/>
<rect x="589.40" y="993.39" width="25.20" height="7.12" fill="#3637a0"/>
<rect x="589.40" y="986.58" width="25.20" height="7.12" fill="#353dad"/>
<rect x="589.40" y="979.76" width="25.20" height="7.12" fill="#3243ba"/>
<rect x="589.40" y="972.94" width="25.20" height="7.12" fill="#2c4ac7"/>
<rect x="589.40" y="966.12" width="25.20" height="7.12" fill="#2053d4"/>
<rect x="589.40" y="959.30" width="25.20" height="7.12" fill="#0f5cdd"/>
<rect x="589.40" y="952.48" width="25.20" height="7.12" fill="#0363e1"/>
<rect x="589.40" y="945.66" width="25.20" height="7.12" fill="#0268e1"/>
<rect x="589.40" y="938.84" width="25.20" height="7.12" fill="#046de0"/>
<rect x="589.40" y="932.03" width="25.20" height="7.12" fill="#0871de"/>
<rect x="589.40" y="925.21" width="25.20" height="7.12" fill="#0d75dc"/>
<rect x="589.40" y="918.39" width="25.20" height="7.12" fill="#1079da"/>
<rect x="589.40" y="911.57" width="25.20" height="7.12" fill="#127dd8"/>
<rect x="589.40" y="904.75" width="25.20" height="7.12" fill="#1481d6"/>
<rect x="589.40" y="897.93" width="25.20" height="7.12" fill="#1485d4"/>
<rect x="589.40" y="891.11" width="25.20" height="7.12" fill="#1389d3"/>
<rect x="589.40" y="884.29" width="25.20" height="7.12" fill="#108ed2"/>
<rect x="589.40" y="877.48" width="25.20" height="7.12" fill="#0c93d2"/>
<rect x="589.40" y="870.66" width="25.20" height="7.12" fill="#0998d1"/>
<rect x="589.40" y="863.84" width="25.20" height="7.12" fill="#079ccf"/>
<rect x="589.40" y="857.02" width="25.20" height="7.12" fill="#06a0cd"/>
<rect x="589.40" y="850.20" width="25.20" height="7.12" fill="#06a4ca"/>
<rect x="589.40" y="843.38" width="25.20" height="7.12" fill="#06a7c6"/>
<rect x="589.40" y="836.56" width="25.20" height="7.12" fill="#07a9c2"/>
<rect x="589.40" y="829.74" width="25.20" height="7.12" fill="#0aacbe"/>
<rect x="589.40" y="822.93" width="25.20" height="7.12" fill="#0faeb9"/>
<rect x="589.40" y="816.11" width="25.20" height="7.12" fill="#15b1b4"/>
<rect x="589.40" y="809.29" width="25.20" height="7.12" fill="#1db3af"/>
<rect x="589.40" y="802.47" width="25.20" height="7.12" fill="#25b5a9"/>
<rect x="589.40" y="795.65" width="25.20" height="7.12" fill="#2eb7a4"/>
<rect x="589.40" y="788.83" width="25.20" height="7.12" fill="#38b99e"/>
<rect x="589.40" y="782.01" width="25.20" height="7.12" fill="#42bb98"/>
<rect x="589.40" y="775.19" width="25.20" height="7.12" fill="#4dbc92"/>
<rect x="589.40" y="768.38" width="25.20" height="7.12" fill="#59bd8c"/>
<rect x="589.40" y="761.56" width="25.20" height="7.12" fill="#65be86"/>
<rect x="589.40" y="754.74" width="25.20" height="7.12" fill="#71bf80"/>
<rect x="589.40" y="747.92" width="25.20" height="7.12" fill="#7cbf7b"/>
<rect x="589.40" y="741.10" width="25.20" height="7.12" fill="#87bf77"/>
<rect x="589.40" y="734.28" width="25.20" height="7.12" fill="#92bf73"/>
<rect x="589.40" y="727.46" width="25.20" height="7.12" fill="#9cbf6f"/>
<rect x="589.40" y="720.64" width="25.20" height="7.12" fill="#a5be6b"/>
<rect x="589.40" y="713.83" width="25.20" height="7.12" fill="#aebe67"/>
<rect x="589.40" y="707.01" width="25.20" height="7.12" fill="#b7bd64"/>
<rect x="589.40" y="700.19" width="25.20" height="7.12" fill="#c0bc60"/>
<rect x="589.40" y="693.37" width="25.20" height="7.12" fill="#c8bc5d"/>
<rect x="589.40" y="686.55" width="25.20" height="7.12" fill="#d1bb59"/>
<rect x="589.40" y="679.73" width="25.20" height="7.12" fill="#d9ba56"/>
<rect x="589.40" y="672.91" width="25.20" height="7.12" fill="#e1b952"/>
<rect x="589.40" y="666.09" width="25.20" height="7.12" fill="#e9b94e"/>
<rect x="589.40" y="659.28" width="25.20" height="7.12" fill="#f1b94a"/>
<rect x="589.40" y="652.46" width="25.20" height="7.12" fill="#f8bb44"/>
<rect x="589.40" y="645.64" width="25.20" height="7.12" fill="#fdbe3d"/>
<rect x="589.40" y="638.82" width="25.20" height="7.12" fill="#ffc337"/>
<rect x="589.40" y="632.00" width="25.20" height="7.12" fill="#fec832"/>
<rect x="589.40" y="625.18" width="25.20" height="7.12" fill="#fcce2e"/>
<rect x="589.40" y="618.36" width="25.20" height="7.12" fill="#fad32a"/>
<rect x="589.40" y="611.54" width="25.20" height="7.12" fill="#f7d826"/>
<rect x="589.40" y="604.73" width="25.20" height="7.12" fill="#f5de21"/>
<rect x="589.40" y="597.91" width="25.20" height="7.12" fill="#f5e41d"/>
<rect x="589.40" y="591.09" width="25.20" height="7.12" fill="#f5eb18"/>
<rect x="589.40" y="584.27" width="25.20" height="7.12" fill="#f6f313"/>
<rect x="589.40" y="577.45" width="25.20" height="7.12" fill="#f9fb0e"/>
</g>
<rect x="589.40" y="577.45" width="25.20" height="436.40" fill="none" stroke="#15151c" stroke-width="1"/>
<text transform="translate(619.00 1012.35) scale(1.065 1)" font-size="10.7" text-anchor="start" font-weight="normal" stroke-width="0.3">-0.6</text>
<text transform="translate(619.00 957.56) scale(1.065 1)" font-size="10.7" text-anchor="start" font-weight="normal" stroke-width="0.3">-0.4</text>
<text transform="translate(619.00 902.77) scale(1.065 1)" font-size="10.7" text-anchor="start" font-weight="normal" stroke-width="0.3">-0.2</text>
<text transform="translate(619.00 847.98) scale(1.065 1)" font-size="10.7" text-anchor="start" font-weight="normal" stroke-width="0.3">0</text>
<text transform="translate(619.00 793.19) scale(1.065 1)" font-size="10.7" text-anchor="start" font-weight="normal" stroke-width="0.3">0.2</text>
<text transform="translate(619.00 738.40) scale(1.065 1)" font-size="10.7" text-anchor="start" font-weight="normal" stroke-width="0.3">0.4</text>
<text transform="translate(619.00 683.61) scale(1.065 1)" font-size="10.7" text-anchor="start" font-weight="normal" stroke-width="0.3">0.6</text>
<text transform="translate(619.00 628.82) scale(1.065 1)" font-size="10.7" text-anchor="start" font-weight="normal" stroke-width="0.3">0.8</text>
<path d="M614.60 1007.55h-4.8M614.60 952.76h-4.8M614.60 897.97h-4.8M614.60 843.18h-4.8M614.60 788.39h-4.8M614.60 733.60h-4.8M614.60 678.81h-4.8M614.60 624.02h-4.8" stroke="#15151c" stroke-width="1" fill="none" stroke-opacity="0.8"/>
<text transform="translate(31.50 1050.55) scale(1.0 1)" font-size="22.2" text-anchor="start" font-weight="bold" stroke-width="0.3" style="stroke-width:0.6px">b</text>
</g>
<g>
<g shape-rendering="crispEdges">
<rect x="71.36" y="1108.40" width="50.53" height="43.94" fill="#25b5a9"/>
<rect x="121.59" y="1108.40" width="50.53" height="43.94" fill="#42bb98"/>
<rect x="171.82" y="1108.40" width="50.53" height="43.94" fill="#65be86"/>
<rect x="222.06" y="1108.40" width="50.53" height="43.94" fill="#87bf77"/>
<rect x="272.29" y="1108.40" width="50.53" height="43.94" fill="#a5be6b"/>
<rect x="322.52" y="1108.40" width="50.53" height="43.94" fill="#c0bc60"/>
<rect x="372.75" y="1108.40" width="50.53" height="43.94" fill="#d9ba56"/>
<rect x="422.98" y="1108.40" width="50.53" height="43.94" fill="#e9b94e"/>
<rect x="473.22" y="1108.40" width="50.53" height="43.94" fill="#ffc337"/>
<rect x="523.45" y="1108.40" width="50.53" height="43.94" fill="#fad32a"/>
<rect x="71.36" y="1152.04" width="50.53" height="43.94" fill="#15b1b4"/>
<rect x="121.59" y="1152.04" width="50.53" height="43.94" fill="#25b5a9"/>
<rect x="171.82" y="1152.04" width="50.53" height="43.94" fill="#42bb98"/>
<rect x="222.06" y="1152.04" width="50.53" height="43.94" fill="#65be86"/>
<rect x="272.29" y="1152.04" width="50.53" height="43.94" fill="#87bf77"/>
<rect x="322.52" y="1152.04" width="50.53" height="43.94" fill="#a5be6b"/>
<rect x="372.75" y="1152.04" width="50.53" height="43.94" fill="#c0bc60"/>
<rect x="422.98" y="1152.04" width="50.53" height="43.94" fill="#d1bb59"/>
<rect x="473.22" y="1152.04" width="50.53" height="43.94" fill="#e9b94e"/>
<rect x="523.45" y="1152.04" width="50.53" height="43.94" fill="#ffc337"/>
<rect x="71.36" y="1195.68" width="50.53" height="43.94" fill="#07a9c2"/>
<rect x="121.59" y="1195.68" width="50.53" height="43.94" fill="#15b1b4"/>
<rect x="171.82" y="1195.68" width="50.53" height="43.94" fill="#25b5a9"/>
<rect x="222.06" y="1195.68" width="50.53" height="43.94" fill="#42bb98"/>
<rect x="272.29" y="1195.68" width="50.53" height="43.94" fill="#65be86"/>
<rect x="322.52" y="1195.68" width="50.53" height="43.94" fill="#7cbf7b"/>
<rect x="372.75" y="1195.68" width="50.53" height="43.94" fill="#9cbf6f"/>
<rect x="422.98" y="1195.68" width="50.53" height="43.94" fill="#b7bd64"/>
<rect x="473.22" y="1195.68" width="50.53" height="43.94" fill="#d1bb59"/>
<rect x="523.45" y="1195.68" width="50.53" height="43.94" fill="#e9b94e"/>
<rect x="71.36" y="1239.32" width="50.53" height="43.94" fill="#06a0cd"/>
<rect x="121.59" y="1239.32" width="50.53" height="43.94" fill="#07a9c2"/>
<rect x="171.82" y="1239.32" width="50.53" height="43.94" fill="#15b1b4"/>
<rect x="222.06" y="1239.32" width="50.53" height="43.94" fill="#25b5a9"/>
<rect x="272.29" y="1239.32" width="50.53" height="43.94" fill="#38b99e"/>
<rect x="322.52" y="1239.32" width="50.53" height="43.94" fill="#59bd8c"/>
<rect x="372.75" y="1239.32" width="50.53" height="43.94" fill="#7cbf7b"/>
<rect x="422.98" y="1239.32" width="50.53" height="43.94" fill="#9cbf6f"/>
<rect x="473.22" y="1239.32" width="50.53" height="43.94" fill="#b7bd64"/>
<rect x="523.45" y="1239.32" width="50.53" height="43.94" fill="#d1bb59"/>
<rect x="71.36" y="1282.96" width="50.53" height="43.94" fill="#0c93d2"/>
<rect x="121.59" y="1282.96" width="50.53" height="43.94" fill="#06a0cd"/>
<rect x="171.82" y="1282.96" width="50.53" height="43.94" fill="#07a9c2"/>
<rect x="222.06" y="1282.96" width="50.53" height="43.94" fill="#0faeb9"/>
<rect x="272.29" y="1282.96" width="50.53" height="43.94" fill="#1db3af"/>
<rect x="322.52" y="1282.96" width="50.53" height="43.94" fill="#38b99e"/>
<rect x="372.75" y="1282.96" width="50.53" height="43.94" fill="#59bd8c"/>
<rect x="422.98" y="1282.96" width="50.53" height="43.94" fill="#7cbf7b"/>
<rect x="473.22" y="1282.96" width="50.53" height="43.94" fill="#9cbf6f"/>
<rect x="523.45" y="1282.96" width="50.53" height="43.94" fill="#b7bd64"/>
<rect x="71.36" y="1326.60" width="50.53" height="43.94" fill="#1481d6"/>
<rect x="121.59" y="1326.60" width="50.53" height="43.94" fill="#108ed2"/>
<rect x="171.82" y="1326.60" width="50.53" height="43.94" fill="#079ccf"/>
<rect x="222.06" y="1326.60" width="50.53" height="43.94" fill="#06a7c6"/>
<rect x="272.29" y="1326.60" width="50.53" height="43.94" fill="#0aacbe"/>
<rect x="322.52" y="1326.60" width="50.53" height="43.94" fill="#1db3af"/>
<rect x="372.75" y="1326.60" width="50.53" height="43.94" fill="#38b99e"/>
<rect x="422.98" y="1326.60" width="50.53" height="43.94" fill="#59bd8c"/>
<rect x="473.22" y="1326.60" width="50.53" height="43.94" fill="#7cbf7b"/>
<rect x="523.45" y="1326.60" width="50.53" height="43.94" fill="#9cbf6f"/>
<rect x="71.36" y="1370.24" width="50.53" height="43.94" fill="#0871de"/>
<rect x="121.59" y="1370.24" width="50.53" height="43.94" fill="#1481d6"/>
<rect x="171.82" y="1370.24" width="50.53" height="43.94" fill="#108ed2"/>
<rect x="222.06" y="1370.24" width="50.53" height="43.94" fill="#079ccf"/>
<rect x="272.29" y="1370.24" width="50.53" height="43.94" fill="#06a4ca"/>
<rect x="322.52" y="1370.24" width="50.53" height="43.94" fill="#0aacbe"/>
<rect x="372.75" y="1370.24" width="50.53" height="43.94" fill="#1db3af"/>
<rect x="422.98" y="1370.24" width="50.53" height="43.94" fill="#38b99e"/>
<rect x="473.22" y="1370.24" width="50.53" height="43.94" fill="#59bd8c"/>
<rect x="523.45" y="1370.24" width="50.53" height="43.94" fill="#7cbf7b"/>
<rect x="71.36" y="1413.88" width="50.53" height="43.94" fill="#0f5cdd"/>
<rect x="121.59" y="1413.88" width="50.53" height="43.94" fill="#046de0"/>
<rect x="171.82" y="1413.88" width="50.53" height="43.94" fill="#1079da"/>
<rect x="222.06" y="1413.88" width="50.53" height="43.94" fill="#1485d4"/>
<rect x="272.29" y="1413.88" width="50.53" height="43.94" fill="#0c93d2"/>
<rect x="322.52" y="1413.88" width="50.53" height="43.94" fill="#06a0cd"/>
<rect x="372.75" y="1413.88" width="50.53" height="43.94" fill="#07a9c2"/>
<rect x="422.98" y="1413.88" width="50.53" height="43.94" fill="#15b1b4"/>
<rect x="473.22" y="1413.88" width="50.53" height="43.94" fill="#38b99e"/>
<rect x="523.45" y="1413.88" width="50.53" height="43.94" fill="#59bd8c"/>
<rect x="71.36" y="1457.52" width="50.53" height="43.94" fill="#353dad"/>
<rect x="121.59" y="1457.52" width="50.53" height="43.94" fill="#0f5cdd"/>
<rect x="171.82" y="1457.52" width="50.53" height="43.94" fill="#046de0"/>
<rect x="222.06" y="1457.52" width="50.53" height="43.94" fill="#1079da"/>
<rect x="272.29" y="1457.52" width="50.53" height="43.94" fill="#1485d4"/>
<rect x="322.52" y="1457.52" width="50.53" height="43.94" fill="#0c93d2"/>
<rect x="372.75" y="1457.52" width="50.53" height="43.94" fill="#06a0cd"/>
<rect x="422.98" y="1457.52" width="50.53" height="43.94" fill="#07a9c2"/>
<rect x="473.22" y="1457.52" width="50.53" height="43.94" fill="#15b1b4"/>
<rect x="523.45" y="1457.52" width="50.53" height="43.94" fill="#2eb7a4"/>
<rect x="71.36" y="1501.16" width="50.53" height="43.94" fill="#352a87"/>
<rect x="121.59" y="1501.16" width="50.53" height="43.94" fill="#353dad"/>
<rect x="171.82" y="1501.16" width="50.53" height="43.94" fill="#2053d4"/>
<rect x="222.06" y="1501.16" width="50.53" height="43.94" fill="#0268e1"/>
<rect x="272.29" y="1501.16" width="50.53" height="43.94" fill="#0d75dc"/>
<rect x="322.52" y="1501.16" width="50.53" height="43.94" fill="#1481d6"/>
<rect x="372.75" y="1501.16" width="50.53" height="43.94" fill="#108ed2"/>
<rect x="422.98" y="1501.16" width="50.53" height="43.94" fill="#06a0cd"/>
<rect x="473.22" y="1501.16" width="50.53" height="43.94" fill="#07a9c2"/>
<rect x="523.45" y="1501.16" width="50.53" height="43.94" fill="#15b1b4"/>
</g>
<path d="M71.36 1152.04L121.59 1108.40M121.59 1152.04L171.82 1108.40M171.82 1152.04L222.06 1108.40M222.06 1152.04L272.29 1108.40M272.29 1152.04L322.52 1108.40M322.52 1152.04L372.75 1108.40M372.75 1152.04L422.98 1108.40M422.98 1152.04L473.22 1108.40M473.22 1152.04L523.45 1108.40M523.45 1152.04L573.68 1108.40M71.36 1195.68L121.59 1152.04M121.59 1195.68L171.82 1152.04M171.82 1195.68L222.06 1152.04M222.06 1195.68L272.29 1152.04M272.29 1195.68L322.52 1152.04M322.52 1195.68L372.75 1152.04M372.75 1195.68L422.98 1152.04M422.98 1195.68L473.22 1152.04M473.22 1195.68L523.45 1152.04M523.45 1195.68L573.68 1152.04M71.36 1239.32L121.59 1195.68M121.59 1239.32L171.82 1195.68M171.82 1239.32L222.06 1195.68M222.06 1239.32L272.29 1195.68M272.29 1239.32L322.52 1195.68M322.52 1239.32L372.75 1195.68M372.75 1239.32L422.98 1195.68M422.98 1239.32L473.22 1195.68M473.22 1239.32L523.45 1195.68M523.45 1239.32L573.68 1195.68M71.36 1282.96L121.59 1239.32M121.59 1282.96L171.82 1239.32M171.82 1282.96L222.06 1239.32M222.06 1282.96L272.29 1239.32M272.29 1282.96L322.52 1239.32M322.52 1282.96L372.75 1239.32M372.75 1282.96L422.98 1239.32M422.98 1282.96L473.22 1239.32M473.22 1282.96L523.45 1239.32M523.45 1282.96L573.68 1239.32M71.36 1326.60L121.59 1282.96M121.59 1326.60L171.82 1282.96M171.82 1326.60L222.06 1282.96M222.06 1326.60L272.29 1282.96M272.29 1326.60L322.52 1282.96M322.52 1326.60L372.75 1282.96M372.75 1326.60L422.98 1282.96M422.98 1326.60L473.22 1282.96M473.22 1326.60L523.45 1282.96M523.45 1326.60L573.68 1282.96M71.36 1370.24L121.59 1326.60M121.59 1370.24L171.82 1326.60M171.82 1370.24L222.06 1326.60M222.06 1370.24L272.29 1326.60M272.29 1370.24L322.52 1326.60M322.52 1370.24L372.75 1326.60M372.75 1370.24L422.98 1326.60M422.98 1370.24L473.22 1326.60M473.22 1370.24L523.45 1326.60M523.45 1370.24L573.68 1326.60M71.36 1413.88L121.59 1370.24M121.59 1413.88L171.82 1370.24M171.82 1413.88L222.06 1370.24M222.06 1413.88L272.29 1370.24M272.29 1413.88L322.52 1370.24M322.52 1413.88L372.75 1370.24M372.75 1413.88L422.98 1370.24M422.98 1413.88L473.22 1370.24M473.22 1413.88L523.45 1370.24M523.45 1413.88L573.68 1370.24M71.36 1457.52L121.59 1413.88M121.59 1457.52L171.82 1413.88M171.82 1457.52L222.06 1413.88M222.06 1457.52L272.29 1413.88M272.29 1457.52L322.52 1413.88M322.52 1457.52L372.75 1413.88M372.75 1457.52L422.98 1413.88M422.98 1457.52L473.22 1413.88M473.22 1457.52L523.45 1413.88M523.45 1457.52L573.68 1413.88M71.36 1501.16L121.59 1457.52M121.59 1501.16L171.82 1457.52M171.82 1501.16L222.06 1457.52M222.06 1501.16L272.29 1457.52M272.29 1501.16L322.52 1457.52M322.52 1501.16L372.75 1457.52M372.75 1501.16L422.98 1457.52M422.98 1501.16L473.22 1457.52M473.22 1501.16L523.45 1457.52M523.45 1501.16L573.68 1457.52M71.36 1544.80L121.59 1501.16M121.59 1544.80L171.82 1501.16M171.82 1544.80L222.06 1501.16M222.06 1544.80L272.29 1501.16M272.29 1544.80L322.52 1501.16M322.52 1544.80L372.75 1501.16M372.75 1544.80L422.98 1501.16M422.98 1544.80L473.22 1501.16M473.22 1544.80L523.45 1501.16M523.45 1544.80L573.68 1501.16" stroke="#ffffff" stroke-width="1" fill="none" stroke-opacity="0.04"/>
<path d="M71.36 1108.40V1544.80M71.36 1108.40H573.68M121.59 1108.40V1544.80M71.36 1152.04H573.68M171.82 1108.40V1544.80M71.36 1195.68H573.68M222.06 1108.40V1544.80M71.36 1239.32H573.68M272.29 1108.40V1544.80M71.36 1282.96H573.68M322.52 1108.40V1544.80M71.36 1326.60H573.68M372.75 1108.40V1544.80M71.36 1370.24H573.68M422.98 1108.40V1544.80M71.36 1413.88H573.68M473.22 1108.40V1544.80M71.36 1457.52H573.68M523.45 1108.40V1544.80M71.36 1501.16H573.68M573.68 1108.40V1544.80M71.36 1544.80H573.68" stroke="#05050c" stroke-width="1.05" fill="none" stroke-opacity="0.88"/>
<text transform="translate(71.36 1562.80) scale(1.065 1)" font-size="10.7" text-anchor="middle" font-weight="normal" stroke-width="0.3">-1</text>
<text transform="translate(65.96 1549.60) scale(1.065 1)" font-size="10.7" text-anchor="end" font-weight="normal" stroke-width="0.3">-10</text>
<text transform="translate(121.59 1562.80) scale(1.065 1)" font-size="10.7" text-anchor="middle" font-weight="normal" stroke-width="0.3">-0.8</text>
<text transform="translate(65.96 1505.96) scale(1.065 1)" font-size="10.7" text-anchor="end" font-weight="normal" stroke-width="0.3">-8</text>
<text transform="translate(171.82 1562.80) scale(1.065 1)" font-size="10.7" text-anchor="middle" font-weight="normal" stroke-width="0.3">-0.6</text>
<text transform="translate(65.96 1462.32) scale(1.065 1)" font-size="10.7" text-anchor="end" font-weight="normal" stroke-width="0.3">-6</text>
<text transform="translate(222.06 1562.80) scale(1.065 1)" font-size="10.7" text-anchor="middle" font-weight="normal" stroke-width="0.3">-0.4</text>
<text transform="translate(65.96 1418.68) scale(1.065 1)" font-size="10.7" text-anchor="end" font-weight="normal" stroke-width="0.3">-4</text>
<text transform="translate(272.29 1562.80) scale(1.065 1)" font-size="10.7" text-anchor="middle" font-weight="normal" stroke-width="0.3">-0.2</text>
<text transform="translate(65.96 1375.04) scale(1.065 1)" font-size="10.7" text-anchor="end" font-weight="normal" stroke-width="0.3">-2</text>
<text transform="translate(322.52 1562.80) scale(1.065 1)" font-size="10.7" text-anchor="middle" font-weight="normal" stroke-width="0.3">0</text>
<text transform="translate(65.96 1331.40) scale(1.065 1)" font-size="10.7" text-anchor="end" font-weight="normal" stroke-width="0.3">0</text>
<text transform="translate(372.75 1562.80) scale(1.065 1)" font-size="10.7" text-anchor="middle" font-weight="normal" stroke-width="0.3">0.2</text>
<text transform="translate(65.96 1287.76) scale(1.065 1)" font-size="10.7" text-anchor="end" font-weight="normal" stroke-width="0.3">2</text>
<text transform="translate(422.98 1562.80) scale(1.065 1)" font-size="10.7" text-anchor="middle" font-weight="normal" stroke-width="0.3">0.4</text>
<text transform="translate(65.96 1244.12) scale(1.065 1)" font-size="10.7" text-anchor="end" font-weight="normal" stroke-width="0.3">4</text>
<text transform="translate(473.22 1562.80) scale(1.065 1)" font-size="10.7" text-anchor="middle" font-weight="normal" stroke-width="0.3">0.6</text>
<text transform="translate(65.96 1200.48) scale(1.065 1)" font-size="10.7" text-anchor="end" font-weight="normal" stroke-width="0.3">6</text>
<text transform="translate(523.45 1562.80) scale(1.065 1)" font-size="10.7" text-anchor="middle" font-weight="normal" stroke-width="0.3">0.8</text>
<text transform="translate(65.96 1156.84) scale(1.065 1)" font-size="10.7" text-anchor="end" font-weight="normal" stroke-width="0.3">8</text>
<text transform="translate(573.68 1562.80) scale(1.065 1)" font-size="10.7" text-anchor="middle" font-weight="normal" stroke-width="0.3">1</text>
<text transform="translate(65.96 1113.20) scale(1.065 1)" font-size="10.7" text-anchor="end" font-weight="normal" stroke-width="0.3">10</text>
<text transform="translate(322.52 1581.80) scale(1.07 1)" font-size="13.0" text-anchor="middle" font-weight="normal" stroke-width="0.3">X Decentration of the lens in mm</text>
<text transform="translate(41.40 1327.60) rotate(-90) scale(1.07 1)" font-size="13.0" text-anchor="middle" font-weight="normal" stroke-width="0.3">Y Tilt of the lens in °</text>
<text transform="translate(322.52 1101.50) scale(1.087 1)" font-size="12.8" text-anchor="middle" font-weight="bold" stroke-width="0.3">Horizonal Coma in µm</text>
<g shape-rendering="crispEdges">
<rect x="589.40" y="1537.98" width="25.20" height="7.12" fill="#352a87"/>
<rect x="589.40" y="1531.16" width="25.20" height="7.12" fill="#363093"/>
<rect x="589.40" y="1524.34" width="25.20" height="7.12" fill="#3637a0"/>
<rect x="589.40" y="1517.53" width="25.20" height="7.12" fill="#353dad"/>
<rect x="589.40" y="1510.71" width="25.20" height="7.12" fill="#3243ba"/>
<rect x="589.40" y="1503.89" width="25.20" height="7.12" fill="#2c4ac7"/>
<rect x="589.40" y="1497.07" width="25.20" height="7.12" fill="#2053d4"/>
<rect x="589.40" y="1490.25" width="25.20" height="7.12" fill="#0f5cdd"/>
<rect x="589.40" y="1483.43" width="25.20" height="7.12" fill="#0363e1"/>
<rect x="589.40" y="1476.61" width="25.20" height="7.12" fill="#0268e1"/>
<rect x="589.40" y="1469.79" width="25.20" height="7.12" fill="#046de0"/>
<rect x="589.40" y="1462.98" width="25.20" height="7.12" fill="#0871de"/>
<rect x="589.40" y="1456.16" width="25.20" height="7.12" fill="#0d75dc"/>
<rect x="589.40" y="1449.34" width="25.20" height="7.12" fill="#1079da"/>
<rect x="589.40" y="1442.52" width="25.20" height="7.12" fill="#127dd8"/>
<rect x="589.40" y="1435.70" width="25.20" height="7.12" fill="#1481d6"/>
<rect x="589.40" y="1428.88" width="25.20" height="7.12" fill="#1485d4"/>
<rect x="589.40" y="1422.06" width="25.20" height="7.12" fill="#1389d3"/>
<rect x="589.40" y="1415.24" width="25.20" height="7.12" fill="#108ed2"/>
<rect x="589.40" y="1408.43" width="25.20" height="7.12" fill="#0c93d2"/>
<rect x="589.40" y="1401.61" width="25.20" height="7.12" fill="#0998d1"/>
<rect x="589.40" y="1394.79" width="25.20" height="7.12" fill="#079ccf"/>
<rect x="589.40" y="1387.97" width="25.20" height="7.12" fill="#06a0cd"/>
<rect x="589.40" y="1381.15" width="25.20" height="7.12" fill="#06a4ca"/>
<rect x="589.40" y="1374.33" width="25.20" height="7.12" fill="#06a7c6"/>
<rect x="589.40" y="1367.51" width="25.20" height="7.12" fill="#07a9c2"/>
<rect x="589.40" y="1360.69" width="25.20" height="7.12" fill="#0aacbe"/>
<rect x="589.40" y="1353.88" width="25.20" height="7.12" fill="#0faeb9"/>
<rect x="589.40" y="1347.06" width="25.20" height="7.12" fill="#15b1b4"/>
<rect x="589.40" y="1340.24" width="25.20" height="7.12" fill="#1db3af"/>
<rect x="589.40" y="1333.42" width="25.20" height="7.12" fill="#25b5a9"/>
<rect x="589.40" y="1326.60" width="25.20" height="7.12" fill="#2eb7a4"/>
<rect x="589.40" y="1319.78" width="25.20" height="7.12" fill="#38b99e"/>
<rect x="589.40" y="1312.96" width="25.20" height="7.12" fill="#42bb98"/>
<rect x="589.40" y="1306.14" width="25.20" height="7.12" fill="#4dbc92"/>
<rect x="589.40" y="1299.33" width="25.20" height="7.12" fill="#59bd8c"/>
<rect x="589.40" y="1292.51" width="25.20" height="7.12" fill="#65be86"/>
<rect x="589.40" y="1285.69" width="25.20" height="7.12" fill="#71bf80"/>
<rect x="589.40" y="1278.87" width="25.20" height="7.12" fill="#7cbf7b"/>
<rect x="589.40" y="1272.05" width="25.20" height="7.12" fill="#87bf77"/>
<rect x="589.40" y="1265.23" width="25.20" height="7.12" fill="#92bf73"/>
<rect x="589.40" y="1258.41" width="25.20" height="7.12" fill="#9cbf6f"/>
<rect x="589.40" y="1251.59" width="25.20" height="7.12" fill="#a5be6b"/>
<rect x="589.40" y="1244.78" width="25.20" height="7.12" fill="#aebe67"/>
<rect x="589.40" y="1237.96" width="25.20" height="7.12" fill="#b7bd64"/>
<rect x="589.40" y="1231.14" width="25.20" height="7.12" fill="#c0bc60"/>
<rect x="589.40" y="1224.32" width="25.20" height="7.12" fill="#c8bc5d"/>
<rect x="589.40" y="1217.50" width="25.20" height="7.12" fill="#d1bb59"/>
<rect x="589.40" y="1210.68" width="25.20" height="7.12" fill="#d9ba56"/>
<rect x="589.40" y="1203.86" width="25.20" height="7.12" fill="#e1b952"/>
<rect x="589.40" y="1197.04" width="25.20" height="7.12" fill="#e9b94e"/>
<rect x="589.40" y="1190.23" width="25.20" height="7.12" fill="#f1b94a"/>
<rect x="589.40" y="1183.41" width="25.20" height="7.12" fill="#f8bb44"/>
<rect x="589.40" y="1176.59" width="25.20" height="7.12" fill="#fdbe3d"/>
<rect x="589.40" y="1169.77" width="25.20" height="7.12" fill="#ffc337"/>
<rect x="589.40" y="1162.95" width="25.20" height="7.12" fill="#fec832"/>
<rect x="589.40" y="1156.13" width="25.20" height="7.12" fill="#fcce2e"/>
<rect x="589.40" y="1149.31" width="25.20" height="7.12" fill="#fad32a"/>
<rect x="589.40" y="1142.49" width="25.20" height="7.12" fill="#f7d826"/>
<rect x="589.40" y="1135.68" width="25.20" height="7.12" fill="#f5de21"/>
<rect x="589.40" y="1128.86" width="25.20" height="7.12" fill="#f5e41d"/>
<rect x="589.40" y="1122.04" width="25.20" height="7.12" fill="#f5eb18"/>
<rect x="589.40" y="1115.22" width="25.20" height="7.12" fill="#f6f313"/>
<rect x="589.40" y="1108.40" width="25.20" height="7.12" fill="#f9fb0e"/>
</g>
<rect x="589.40" y="1108.40" width="25.20" height="436.40" fill="none" stroke="#15151c" stroke-width="1"/>
<text transform="translate(619.00 1507.39) scale(1.065 1)" font-size="10.7" text-anchor="start" font-weight="normal" stroke-width="0.3">-0.4</text>
<text transform="translate(619.00 1460.49) scale(1.065 1)" font-size="10.7" text-anchor="start" font-weight="normal" stroke-width="0.3">-0.3</text>
<text transform="translate(619.00 1413.59) scale(1.065 1)" font-size="10.7" text-anchor="start" font-weight="normal" stroke-width="0.3">-0.2</text>
<text transform="translate(619.00 1366.69) scale(1.065 1)" font-size="10.7" text-anchor="start" font-weight="normal" stroke-width="0.3">-0.1</text>
<text transform="translate(619.00 1319.79) scale(1.065 1)" font-size="10.7" text-anchor="start" font-weight="normal" stroke-width="0.3">0</text>
<text transform="translate(619.00 1272.89) scale(1.065 1)" font-size="10.7" text-anchor="start" font-weight="normal" stroke-width="0.3">0.1</text>
<text transform="translate(619.00 1225.99) scale(1.065 1)" font-size="10.7" text-anchor="start" font-weight="normal" stroke-width="0.3">0.2</text>
<text transform="translate(619.00 1179.09) scale(1.065 1)" font-size="10.7" text-anchor="start" font-weight="normal" stroke-width="0.3">0.3</text>
<text transform="translate(619.00 1132.19) scale(1.065 1)" font-size="10.7" text-anchor="start" font-weight="normal" stroke-width="0.3">0.4</text>
<path d="M614.60 1502.59h-4.8M614.60 1455.69h-4.8M614.60 1408.79h-4.8M614.60 1361.89h-4.8M614.60 1314.99h-4.8M614.60 1268.09h-4.8M614.60 1221.19h-4.8M614.60 1174.29h-4.8M614.60 1127.39h-4.8" stroke="#15151c" stroke-width="1" fill="none" stroke-opacity="0.8"/>
<text transform="translate(31.50 1581.50) scale(1.0 1)" font-size="22.2" text-anchor="start" font-weight="bold" stroke-width="0.3" style="stroke-width:0.6px">c</text>
</g>
</svg>
</body></html>
